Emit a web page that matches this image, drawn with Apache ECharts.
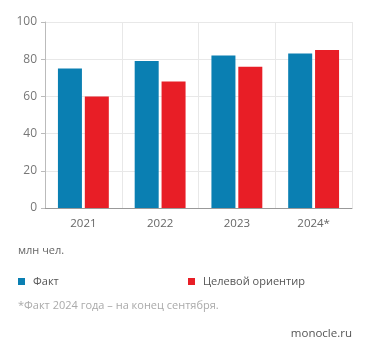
<!DOCTYPE html>
<html><head><meta charset="utf-8">
<script src="https://cdn.jsdelivr.net/npm/echarts@6/dist/echarts.min.js"></script>
<style>html,body{margin:0;padding:0;background:#fff}#c{width:371px;height:357px}</style>
</head><body><div id="c"></div>
<script>
const categories = ['2021', '2022', '2023', '2024*'];
const factValues = [75, 79, 82, 83];
const targetValues = [60, 68, 76, 85];
const seriesNames = ['Факт', 'Целевой ориентир'];
const yTicks = [0, 20, 40, 60, 80, 100];
const unitText = 'млн чел.';
const footnote = '*Факт 2024 года – на конец сентября.';
const source = 'monocle.ru';

const font = 'Open Sans';
const chart = echarts.init(document.getElementById('c'), null, {renderer: 'canvas'});
chart.setOption({
  animation: false,
  textStyle: {fontFamily: font},
  grid: {left: 45, right: 19, top: 22, bottom: 149, containLabel: false},
  xAxis: {
    type: 'category', data: categories,
    axisLine: {lineStyle: {color: '#999', width: 1}},
    axisTick: {show: false},
    axisLabel: {color: '#666', fontSize: 11.5, margin: 10, fontFamily: font},
    splitLine: {show: true, lineStyle: {color: '#e8e8e8'}}
  },
  yAxis: {
    type: 'value', min: yTicks[0], max: yTicks[yTicks.length-1], interval: 20,
    axisLine: {show: true, lineStyle: {color: '#bbb'}},
    axisTick: {show: true, length: 4, lineStyle: {color: '#bbb'}},
    axisLabel: {color: '#777', fontSize: 12, margin: 8, fontFamily: font},
    splitLine: {lineStyle: {color: '#e8e8e8'}}
  },
  legend: [
    {data: [seriesNames[0]], left: 13, top: 271, icon: 'rect', itemWidth: 7, itemHeight: 7, itemGap: 0,
     textStyle: {color: '#555', fontSize: 11, fontFamily: font, padding: [0,0,0,3]}, selectedMode: false},
    {data: [seriesNames[1]], left: 183, top: 271, icon: 'rect', itemWidth: 7, itemHeight: 7, itemGap: 0,
     textStyle: {color: '#555', fontSize: 11, fontFamily: font, padding: [0,0,0,3]}, selectedMode: false}
  ],
  series: [
    {name: seriesNames[0], type: 'bar', data: factValues, barWidth: 24, barGap: '12%',
     itemStyle: {color: '#0a7fb2'}},
    {name: seriesNames[1], type: 'bar', data: targetValues, barWidth: 24,
     itemStyle: {color: '#e81e26'}}
  ],
  graphic: [
    {type: 'text', left: 18, top: 245, style: {text: unitText, fill: '#666', font: '11px "Open Sans"'}},
    {type: 'text', left: 18, top: 300, style: {text: footnote, fill: '#aaa', font: '11px "Open Sans"'}},
    {type: 'text', right: 19, top: 328, style: {text: source, fill: '#555', font: '11.5px "Open Sans"'}}
  ]
});
</script></body></html>
